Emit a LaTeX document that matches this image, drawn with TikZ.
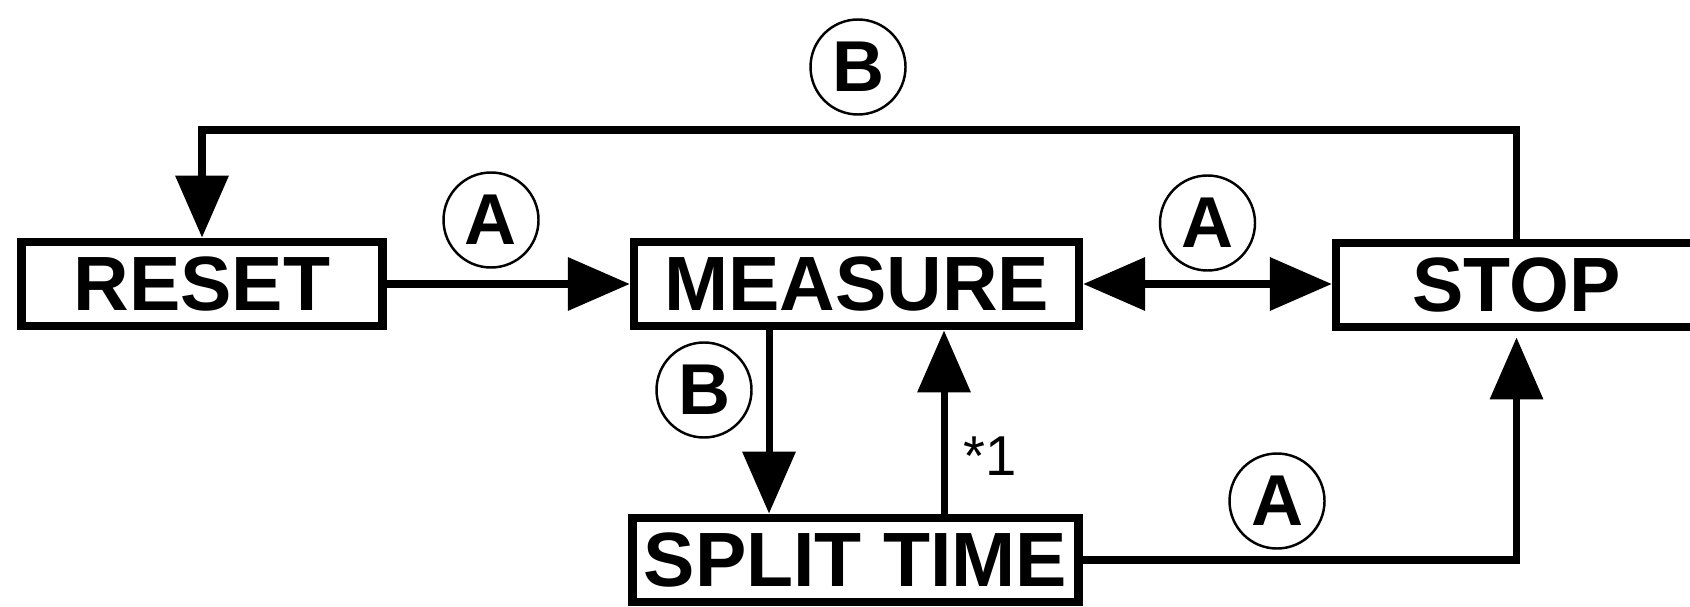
\documentclass[tikz,border=0pt]{standalone}
\usepackage{fontspec}
\setmainfont{Liberation Sans}
\usetikzlibrary{arrows.meta, calc}

\begin{document}
\begin{tikzpicture}[
  >={Triangle[length=0.62cm, width=0.52cm]},
  box/.style={draw, line width=2.4pt, minimum width=3.61cm, minimum height=0.845cm,
    inner sep=0pt, font=\fontsize{21.9}{24}\selectfont\bfseries},
  key/.style={draw, circle, line width=0.7pt, minimum size=0.95cm, inner sep=0pt,
    font=\fontsize{20.5}{22}\selectfont\bfseries},
  link/.style={line width=2pt}
]
  \useasboundingbox (0,0) rectangle (16.90,6.06);
  \clip (0,0) rectangle (16.90,6.06);

  % States
  \node[box] (reset) at (2.02,3.22) {RESET};
  \node[box, minimum width=4.45cm] (measure) at (8.565,3.22) {MEASURE};
  \node[box, minimum width=4.46cm] (split) at (8.555,0.46) {SPLIT TIME};
  \node[box] (stop) at (15.165,3.21) {STOP};

  % Helper coordinates
  \coordinate (top) at (0,4.76);
  \coordinate (down) at (7.69,0);
  \coordinate (up) at (9.44,0);

  % Transitions
  \draw[link, ->] (stop.north) -- (stop.north |- top) -| (reset.north);
  \draw[link, ->] (reset.east) -- (measure.west);
  \draw[link, <->] (measure.east) -- (measure.east -| stop.west);
  \draw[link, ->] (measure.south -| down) -- (split.north -| down);
  \draw[link, ->] (split.north -| up) -- (measure.south -| up);
  \draw[link, ->, shorten >=0.06cm] (split.east) -| (stop.south);

  % Button labels
  \node[key] (b1) at (8.58,5.39) {B};
  \node[key] (a1) at (4.91,3.86) {A};
  \node[key] (a2) at (12.075,3.83) {A};
  \node[key] (b2) at (7.04,2.16) {B};
  \node[key] (a3) at (12.77,1.05) {A};
  \node[font=\fontsize{16}{18}\selectfont] (note) at (9.90,1.50) {*1};
\end{tikzpicture}
\end{document}
